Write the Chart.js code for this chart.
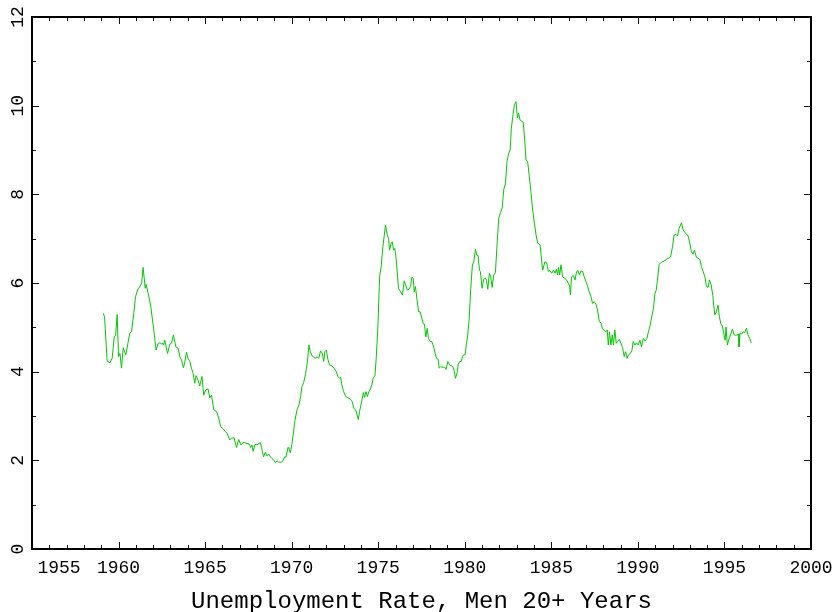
<!DOCTYPE html>
<html>
<head>
<meta charset="utf-8">
<script src="https://cdn.jsdelivr.net/npm/chart.js@4.4.1/dist/chart.umd.min.js"></script>
<style>
  body { margin: 0; background: #fff; }
  #wrap { width: 838px; height: 612px; }
</style>
</head>
<body>
<div id="wrap"><canvas id="grafik" width="838" height="612"></canvas></div>
<script>
// --- data (tahun desimal, persen) ---
const years = [
  1959.11, 1959.19, 1959.34, 1959.50, 1959.63, 1959.75, 1959.83, 1959.92, 1960.00, 1960.08,
  1960.17, 1960.27, 1960.42, 1960.65, 1960.75, 1960.88, 1960.98, 1961.10, 1961.23, 1961.33,
  1961.42, 1961.54, 1961.59, 1961.71, 1961.85, 1962.00, 1962.17, 1962.29, 1962.40, 1962.48,
  1962.54, 1962.60, 1962.67, 1962.83, 1962.96, 1963.06, 1963.17, 1963.31, 1963.44, 1963.54,
  1963.64, 1963.75, 1963.83, 1963.92, 1964.02, 1964.12, 1964.21, 1964.31, 1964.40, 1964.48,
  1964.59, 1964.69, 1964.82, 1964.92, 1965.04, 1965.17, 1965.27, 1965.37, 1965.50, 1965.66,
  1965.79, 1965.90, 1966.04, 1966.17, 1966.27, 1966.42, 1966.52, 1966.67, 1966.81, 1966.94,
  1967.06, 1967.19, 1967.29, 1967.42, 1967.54, 1967.63, 1967.71, 1967.77, 1967.88, 1968.00,
  1968.11, 1968.19, 1968.29, 1968.38, 1968.48, 1968.57, 1968.67, 1968.77, 1968.86, 1968.96,
  1969.06, 1969.15, 1969.25, 1969.41, 1969.50, 1969.60, 1969.67, 1969.79, 1969.84, 1969.92,
  1970.02, 1970.12, 1970.19, 1970.31, 1970.42, 1970.52, 1970.59, 1970.69, 1970.81, 1970.91,
  1971.00, 1971.08, 1971.17, 1971.27, 1971.37, 1971.46, 1971.56, 1971.67, 1971.77, 1971.85,
  1971.92, 1972.00, 1972.09, 1972.19, 1972.33, 1972.44, 1972.58, 1972.67, 1972.77, 1972.83,
  1972.90, 1973.00, 1973.12, 1973.25, 1973.39, 1973.50, 1973.59, 1973.69, 1973.79, 1973.85,
  1973.92, 1974.04, 1974.14, 1974.21, 1974.29, 1974.37, 1974.46, 1974.54, 1974.63, 1974.71,
  1974.81, 1974.89, 1974.98, 1975.08, 1975.17, 1975.27, 1975.35, 1975.42, 1975.52, 1975.60,
  1975.65, 1975.75, 1975.81, 1975.89, 1975.96, 1976.04, 1976.12, 1976.17, 1976.29, 1976.40,
  1976.50, 1976.58, 1976.68, 1976.77, 1976.87, 1976.94, 1977.02, 1977.08, 1977.15, 1977.23,
  1977.33, 1977.43, 1977.52, 1977.60, 1977.67, 1977.75, 1977.83, 1977.90, 1978.00, 1978.09,
  1978.19, 1978.29, 1978.37, 1978.46, 1978.52, 1978.60, 1978.73, 1978.84, 1978.92, 1979.02,
  1979.12, 1979.23, 1979.31, 1979.40, 1979.46, 1979.56, 1979.62, 1979.71, 1979.79, 1979.87,
  1979.94, 1980.02, 1980.10, 1980.17, 1980.25, 1980.34, 1980.44, 1980.52, 1980.62, 1980.69,
  1980.77, 1980.85, 1980.90, 1981.00, 1981.09, 1981.19, 1981.25, 1981.33, 1981.42, 1981.50,
  1981.58, 1981.67, 1981.77, 1981.87, 1981.96, 1982.06, 1982.16, 1982.25, 1982.35, 1982.44,
  1982.54, 1982.62, 1982.69, 1982.77, 1982.87, 1982.96, 1983.04, 1983.11, 1983.19, 1983.29,
  1983.37, 1983.44, 1983.54, 1983.63, 1983.73, 1983.83, 1983.92, 1984.02, 1984.12, 1984.21,
  1984.35, 1984.50, 1984.63, 1984.73, 1984.83, 1984.92, 1985.02, 1985.12, 1985.21, 1985.29,
  1985.36, 1985.42, 1985.48, 1985.56, 1985.65, 1985.75, 1985.88, 1986.00, 1986.06, 1986.10,
  1986.17, 1986.27, 1986.37, 1986.46, 1986.54, 1986.62, 1986.71, 1986.81, 1986.90, 1987.00,
  1987.09, 1987.19, 1987.29, 1987.38, 1987.48, 1987.58, 1987.67, 1987.77, 1987.87, 1987.96,
  1988.06, 1988.15, 1988.23, 1988.29, 1988.36, 1988.44, 1988.52, 1988.59, 1988.67, 1988.75,
  1988.83, 1988.92, 1989.02, 1989.11, 1989.21, 1989.29, 1989.37, 1989.46, 1989.56, 1989.65,
  1989.73, 1989.83, 1989.92, 1990.02, 1990.12, 1990.21, 1990.31, 1990.42, 1990.52, 1990.61,
  1990.71, 1990.81, 1990.90, 1990.98, 1991.06, 1991.15, 1991.23, 1991.33, 1991.42, 1991.52,
  1991.62, 1991.71, 1991.81, 1991.90, 1992.00, 1992.09, 1992.19, 1992.29, 1992.38, 1992.52,
  1992.61, 1992.71, 1992.80, 1992.90, 1993.00, 1993.09, 1993.19, 1993.27, 1993.38, 1993.48,
  1993.58, 1993.67, 1993.77, 1993.87, 1993.96, 1994.06, 1994.13, 1994.23, 1994.33, 1994.38,
  1994.44, 1994.53, 1994.63, 1994.71, 1994.79, 1994.88, 1994.98, 1995.04, 1995.09, 1995.17,
  1995.27, 1995.37, 1995.46, 1995.56, 1995.65, 1995.75, 1995.80, 1995.84, 1995.90, 1996.00,
  1996.09, 1996.17, 1996.27, 1996.36, 1996.46, 1996.54
];
const rates = [
  5.32, 5.24, 4.24, 4.20, 4.30, 4.79, 4.81, 5.29, 4.34, 4.41,
  4.08, 4.54, 4.38, 4.87, 4.90, 5.32, 5.69, 5.84, 5.92, 5.99,
  6.35, 5.88, 5.97, 5.77, 5.50, 5.05, 4.49, 4.64, 4.65, 4.62,
  4.65, 4.60, 4.71, 4.41, 4.62, 4.64, 4.83, 4.56, 4.53, 4.34,
  4.26, 4.09, 4.22, 4.44, 4.29, 4.23, 4.08, 3.96, 3.74, 3.91,
  3.81, 3.68, 3.89, 3.47, 3.59, 3.61, 3.41, 3.47, 3.14, 3.10,
  2.95, 2.76, 2.71, 2.65, 2.61, 2.46, 2.50, 2.51, 2.29, 2.47,
  2.35, 2.40, 2.40, 2.38, 2.37, 2.29, 2.35, 2.20, 2.36, 2.35,
  2.38, 2.40, 2.23, 2.08, 2.18, 2.10, 2.14, 2.08, 2.04, 2.01,
  1.95, 1.99, 1.96, 1.96, 1.99, 2.08, 2.07, 2.29, 2.27, 2.17,
  2.38, 2.68, 2.90, 3.14, 3.25, 3.44, 3.66, 3.75, 3.96, 4.23,
  4.60, 4.45, 4.36, 4.33, 4.30, 4.34, 4.30, 4.47, 4.41, 4.23,
  4.45, 4.49, 4.28, 4.15, 4.13, 4.08, 4.00, 3.89, 3.85, 3.87,
  3.70, 3.55, 3.44, 3.41, 3.38, 3.32, 3.17, 3.14, 3.02, 2.92,
  3.10, 3.32, 3.53, 3.42, 3.55, 3.44, 3.55, 3.60, 3.70, 3.85,
  3.90, 4.34, 5.01, 6.14, 6.37, 6.82, 7.08, 7.31, 7.08, 7.00,
  6.74, 6.90, 6.93, 6.74, 6.78, 6.52, 6.14, 5.88, 5.80, 5.73,
  6.05, 5.96, 5.84, 5.86, 5.92, 6.13, 6.11, 5.80, 5.92, 5.66,
  5.35, 5.35, 5.20, 5.08, 5.07, 4.78, 4.98, 4.75, 4.68, 4.68,
  4.58, 4.41, 4.30, 4.28, 4.08, 4.11, 4.10, 4.10, 4.05, 4.23,
  4.15, 4.13, 4.11, 4.00, 3.85, 3.98, 4.17, 4.23, 4.23, 4.34,
  4.38, 4.38, 4.64, 4.83, 5.17, 5.84, 6.41, 6.48, 6.76, 6.63,
  6.62, 6.29, 6.26, 5.88, 6.08, 6.11, 6.06, 5.86, 6.22, 6.14,
  5.90, 6.18, 6.23, 6.90, 7.46, 7.59, 7.69, 8.10, 8.25, 8.74,
  8.93, 9.00, 9.49, 9.75, 10.02, 10.09, 9.72, 9.83, 9.68, 9.65,
  9.63, 9.34, 8.77, 8.74, 8.40, 8.02, 7.65, 7.35, 7.08, 6.90,
  6.86, 6.29, 6.48, 6.46, 6.26, 6.28, 6.22, 6.29, 6.22, 6.31,
  6.18, 6.35, 6.18, 6.41, 6.14, 6.11, 6.07, 5.98, 5.93, 5.73,
  6.14, 6.17, 6.07, 6.26, 6.28, 6.18, 6.27, 6.26, 6.14, 6.03,
  5.93, 5.80, 5.69, 5.54, 5.58, 5.52, 5.39, 5.13, 5.10, 4.96,
  4.93, 4.90, 4.94, 4.60, 4.90, 4.60, 4.83, 4.60, 4.94, 4.64,
  4.68, 4.73, 4.64, 4.55, 4.34, 4.45, 4.30, 4.38, 4.41, 4.47,
  4.68, 4.60, 4.65, 4.60, 4.71, 4.56, 4.75, 4.69, 4.75, 4.90,
  5.05, 5.26, 5.43, 5.75, 5.84, 6.14, 6.42, 6.46, 6.48, 6.50,
  6.52, 6.56, 6.56, 6.61, 6.82, 7.08, 7.10, 7.06, 7.23, 7.36,
  7.20, 7.14, 7.11, 7.06, 6.90, 6.71, 6.65, 6.74, 6.58, 6.56,
  6.53, 6.37, 6.26, 6.14, 5.92, 5.90, 6.07, 5.96, 5.71, 5.50,
  5.28, 5.35, 5.50, 5.24, 5.08, 5.03, 4.83, 4.71, 5.01, 4.60,
  4.75, 4.85, 4.96, 4.83, 4.82, 4.83, 4.85, 4.56, 4.87, 4.85,
  4.90, 4.88, 4.98, 4.83, 4.75, 4.65
];
const xTicks = [1955, 1960, 1965, 1970, 1975, 1980, 1985, 1990, 1995, 2000];
const yTicks = [0, 2, 4, 6, 8, 10, 12];
const judul = 'Unemployment Rate, Men 20+ Years';

const fontMono = "'Liberation Mono', 'DejaVu Sans Mono', monospace";

// bingkai hitam + tick ke dalam di keempat sisi
const bingkaiPlugin = {
  id: 'bingkai',
  afterDraw(chart) {
    const { ctx, chartArea: a, scales } = chart;
    const sx = scales.x, sy = scales.y;
    ctx.save();
    ctx.strokeStyle = '#111';
    ctx.lineWidth = 1;
    ctx.beginPath();
    for (let t = 1955; t <= 2000; t++) {
      const px = Math.round(sx.getPixelForValue(t)) + 0.5;
      const len = t % 5 === 0 ? 7 : 4;
      ctx.moveTo(px, a.bottom); ctx.lineTo(px, a.bottom - len);
      ctx.moveTo(px, a.top); ctx.lineTo(px, a.top + len);
    }
    for (let v = 0; v <= 12; v++) {
      const py = Math.round(sy.getPixelForValue(v)) + 0.5;
      const len = v % 2 === 0 ? 7 : 4;
      ctx.moveTo(a.left, py); ctx.lineTo(a.left + len, py);
      ctx.moveTo(a.right, py); ctx.lineTo(a.right - len, py);
    }
    ctx.stroke();
    ctx.strokeStyle = '#000';
    ctx.lineWidth = 2;
    ctx.strokeRect(a.left, a.top, a.right - a.left, a.bottom - a.top);
    ctx.restore();
  }
};

new Chart(document.getElementById('grafik'), {
  type: 'line',
  data: {
    datasets: [{
      data: years.map((t, i) => ({ x: t, y: rates[i] })),
      borderColor: 'rgb(0, 200, 0)',
      borderWidth: 1,
      pointRadius: 0,
      tension: 0,
      fill: false
    }]
  },
  options: {
    responsive: false,
    animation: false,
    layout: { padding: { left: 0, top: 17, right: 27, bottom: 0 } },
    plugins: { legend: { display: false }, tooltip: { enabled: false } },
    scales: {
      x: {
        type: 'linear',
        min: 1955,
        max: 2000,
        grid: { display: false, drawTicks: false },
        border: { display: false },
        afterBuildTicks: (s) => { s.ticks = xTicks.map(v => ({ value: v })); },
        afterFit: (s) => {
          s.height = 63;
          // label pertama sengaja digeser, jangan sampai area grafik ikut mengecil
          s.paddingLeft = 0;
          s.paddingRight = 0;
        },
        ticks: {
          autoSkip: false,
          maxRotation: 0,
          minRotation: 0,
          padding: 8,
          color: '#000',
          font: { family: fontMono, size: 18 },
          callback: (v) => (v === 1955 ? '     1955' : String(v))
        },
        title: {
          display: true,
          text: judul,
          color: '#000',
          padding: { top: 0, bottom: 0 },
          font: { family: fontMono, size: 24, lineHeight: 0.9 }
        }
      },
      y: {
        min: 0,
        max: 12,
        grid: { display: false, drawTicks: false },
        border: { display: false },
        afterBuildTicks: (s) => { s.ticks = yTicks.map(v => ({ value: v })); },
        afterFit: (s) => {
          s.width = 32;
          s.paddingTop = 0;
          s.paddingBottom = 0;
        },
        ticks: {
          minRotation: 90,
          maxRotation: 90,
          crossAlign: 'center',
          padding: 3,
          color: '#000',
          font: { family: fontMono, size: 18 }
        }
      }
    }
  },
  plugins: [bingkaiPlugin]
});
</script>
</body>
</html>
